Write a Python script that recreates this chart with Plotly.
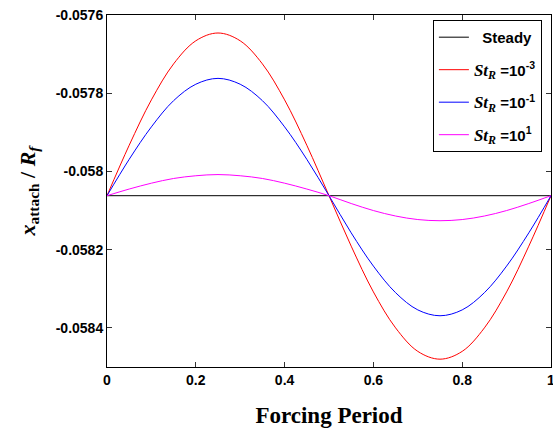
import plotly.graph_objects as go

period = [0, 0.05, 0.1, 0.15, 0.2, 0.25, 0.3, 0.35, 0.4, 0.45, 0.5,
          0.55, 0.6, 0.65, 0.7, 0.75, 0.8, 0.85, 0.9, 0.95, 1.0]
steady = [-0.058062] * 21
st_1em3 = [-0.058062, -0.057933, -0.057817, -0.057725, -0.057666, -0.057646,
           -0.057666, -0.057725, -0.057817, -0.057933, -0.058062,
           -0.058191, -0.058308, -0.058400, -0.058460, -0.058480,
           -0.058460, -0.058400, -0.058308, -0.058191, -0.058062]
st_1em1 = [-0.058062, -0.057969, -0.057886, -0.057819, -0.057777, -0.057762,
           -0.057777, -0.057819, -0.057886, -0.057969, -0.058062,
           -0.058157, -0.058242, -0.058310, -0.058354, -0.058369,
           -0.058354, -0.058310, -0.058242, -0.058157, -0.058062]
st_1e1 = [-0.058062, -0.058045, -0.058030, -0.058018, -0.058011, -0.058008,
          -0.058011, -0.058018, -0.058030, -0.058045, -0.058062,
          -0.058082, -0.058100, -0.058114, -0.058123, -0.058126,
          -0.058123, -0.058114, -0.058100, -0.058082, -0.058062]

ytick_vals = [-0.0576, -0.0578, -0.058, -0.0582, -0.0584]
ytick_text = ["-0.0576", "-0.0578", "-0.058", "-0.0582", "-0.0584"]
xtick_vals = [0, 0.2, 0.4, 0.6, 0.8, 1]
xtick_text = ["0", "0.2", "0.4", "0.6", "0.8", "1"]

SER = "Liberation Serif"
def st_label(exp):
    return (f"<span style='font-family:{SER};font-size:17px'><i>St<sub>R</sub></i></span>"
            f" =10<span style='font-size:15px'><sup>{exp}</sup></span>")

fig = go.Figure()
fig.add_trace(go.Scatter(x=period, y=steady, mode="lines", name="  Steady",
                         legendgroup="a",
                         line=dict(color="black", width=1)))
fig.add_trace(go.Scatter(x=period, y=st_1em3, mode="lines", name=st_label("-3"),
                         legendgroup="b",
                         line=dict(color="#ff0000", width=1, shape="spline")))
fig.add_trace(go.Scatter(x=period, y=st_1em1, mode="lines", name=st_label("-1"),
                         legendgroup="c",
                         line=dict(color="#0000ff", width=1, shape="spline")))
fig.add_trace(go.Scatter(x=period, y=st_1e1, mode="lines", name=st_label("1"),
                         legendgroup="d",
                         line=dict(color="#ff00ff", width=1, shape="spline")))

axis_common = dict(showline=True, linecolor="black", linewidth=1, mirror="ticks",
                   ticks="inside", ticklen=5, tickcolor="#333", showgrid=False,
                   zeroline=False, automargin=False, ticklabeloverflow="allow",
                   tickfont=dict(family="Liberation Sans", size=14, color="black",
                                 weight="bold"))

fig.update_layout(
    width=553, height=432,
    margin=dict(l=107, r=2, t=15, b=65, autoexpand=False),
    paper_bgcolor="white", plot_bgcolor="white",
    font=dict(family="Liberation Sans", color="black", size=14),
    xaxis=dict(range=[0, 1], tickvals=xtick_vals, ticktext=xtick_text,
               title=dict(text="<b>Forcing Period</b>",
                          font=dict(family=SER, size=23), standoff=20),
               **axis_common),
    yaxis=dict(range=[-0.05850, -0.0576], tickvals=ytick_vals, ticktext=ytick_text,
               title=dict(text="<b><i>x</i><sub>attach</sub> / <i>R<sub>f</sub></i></b>",
                          font=dict(family=SER, size=22), standoff=14),
               **axis_common),
    legend=dict(x=0.734, y=0.986, xanchor="left", yanchor="top",
                bordercolor="black", borderwidth=1, bgcolor="white",
                font=dict(family="Liberation Sans", size=15, color="black",
                          weight="bold"),
                itemwidth=30, tracegroupgap=10),
    showlegend=True,
)

fig.write_html("out.html", config={"displayModeBar": False},
               post_script="document.body.style.margin='0';document.body.style.overflow='hidden';")
